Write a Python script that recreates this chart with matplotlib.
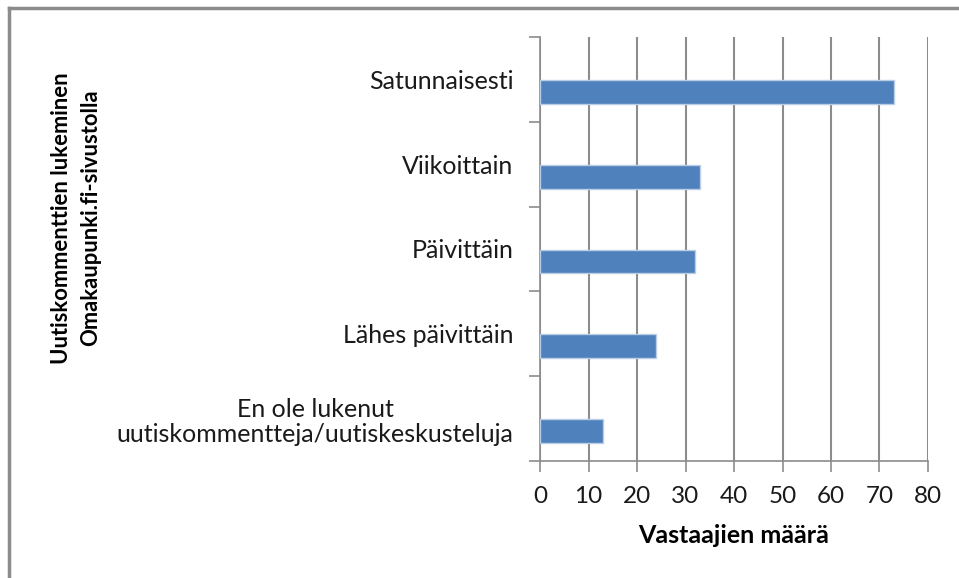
import matplotlib.pyplot as plt
import numpy as np

# Daten (von unten nach oben)
kategorien = ['En ole lukenut\nuutiskommentteja/uutiskeskusteluja',
              'Lähes päivittäin', 'Päivittäin', 'Viikoittain', 'Satunnaisesti']
vastaajat = [13, 24, 32, 33, 73]
x_ticks = [0, 10, 20, 30, 40, 50, 60, 70, 80]

plt.rcParams['font.family'] = ['Lato', 'DejaVu Sans']

fig = plt.figure(figsize=(9.59, 5.78), dpi=100)
ax = fig.add_axes([540 / 959, 1 - 461 / 578, 388 / 959, 424 / 578])

pos = np.arange(len(kategorien))
ax.barh(pos - 0.147, vastaajat, height=0.28, color='#4F81BD',
        edgecolor='#B9CDE5', linewidth=1, zorder=3)

ax.set_xlim(0, 80)
ax.set_ylim(-0.5, len(kategorien) - 0.5)
ax.set_xticks(x_ticks)
ax.grid(axis='x', color='#8C8C8C', linewidth=1.5, zorder=0)

ax.set_yticks(pos)
ax.set_yticklabels(kategorien, fontsize=18, color='#1a1a1a', ha='right',
                   multialignment='center', linespacing=1.15)
ax.set_yticks(np.arange(-0.5, len(kategorien)), minor=True)
ax.tick_params(axis='y', which='major', length=0, pad=19)
ax.tick_params(axis='y', which='minor', length=8, width=1.2, color='#8C8C8C',
               direction='out')
ax.tick_params(axis='x', length=8, width=1.2, color='#8C8C8C', direction='out',
               labelsize=17.5, labelcolor='#1a1a1a', pad=10)

for s in ['top', 'right']:
    ax.spines[s].set_visible(False)
for s in ['left', 'bottom']:
    ax.spines[s].set_color('#8C8C8C')
    ax.spines[s].set_linewidth(1.2)

ax.set_xlabel('Vastaajien määrä', fontsize=18, fontweight='bold', labelpad=12)
fig.text(76 / 959, 1 - 218 / 578,
         'Uutiskommenttien lukeminen\nOmakaupunki.fi-sivustolla',
         rotation=90, fontsize=15.8, fontweight='bold', ha='center', va='center',
         multialignment='center', linespacing=1.45)

# Rahmen (nur oben und links sichtbar)
fig.add_artist(plt.Line2D([9 / 959, 1], [1 - 8 / 578, 1 - 8 / 578],
                          color='#8C8C8C', linewidth=2.5))
fig.add_artist(plt.Line2D([9 / 959, 9 / 959], [0, 1 - 8 / 578],
                          color='#8C8C8C', linewidth=2.5))

fig.savefig('out.png', dpi=100, facecolor='white')
